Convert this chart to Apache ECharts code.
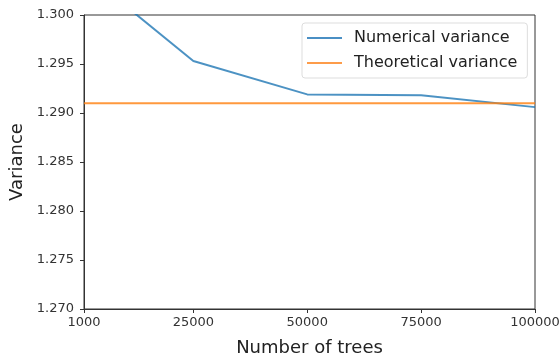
<!DOCTYPE html>
<html>
<head>
<meta charset="utf-8">
<script src="https://cdn.jsdelivr.net/npm/echarts@6/dist/echarts.min.js"></script>
<style>
  html, body { margin: 0; padding: 0; background: #fff; }
  #chart { width: 560px; height: 356px; }
</style>
</head>
<body>
<div id="chart"></div>
<script>
// Variance of the estimate as the forest grows
const treeCounts = [1000, 25000, 50000, 75000, 100000];
const numericalVariance = [1.3044, 1.2953, 1.2919, 1.2918, 1.2906];
const theoreticalVariance = 1.2910;
const xTickValues = [1000, 25000, 50000, 75000, 100000];
const yTickLabels = ['1.270', '1.275', '1.280', '1.285', '1.290', '1.295', '1.300'];

const numericalPoints = treeCounts.map((n, i) => [n, numericalVariance[i]]);
const theoreticalPoints = [[treeCounts[0], theoreticalVariance], [treeCounts[treeCounts.length - 1], theoreticalVariance]];

const chart = echarts.init(document.getElementById('chart'), null, { renderer: 'canvas' });

const font = 'DejaVu Sans';

chart.setOption({
  animation: false,
  backgroundColor: '#fff',
  grid: {
    left: 84, right: 25, top: 15, bottom: 47,
    outerBoundsMode: 'none',
    containLabel: false,
    show: true, borderColor: '#333', borderWidth: 1, backgroundColor: 'transparent'
  },
  legend: {
    left: 302, top: 23,
    orient: 'vertical',
    itemWidth: 35, itemHeight: 2, itemGap: 7,
    icon: 'rect',
    borderColor: '#ddd', borderWidth: 1, borderRadius: 3,
    padding: [6, 10, 6, 5],
    textStyle: { fontFamily: font, fontSize: 16, lineHeight: 18, color: '#222', padding: [0, 0, 0, 7] },
    data: ['Numerical variance', 'Theoretical variance']
  },
  xAxis: {
    type: 'value',
    min: 1000, max: 100000,
    name: 'Number of trees',
    nameLocation: 'middle', nameGap: 30,
    nameTextStyle: { fontFamily: font, fontSize: 18, color: '#222' },
    axisLine: { show: true, lineStyle: { color: '#333' } },
    axisTick: { show: true, length: 4, lineStyle: { color: '#333' }, customValues: xTickValues },
    axisLabel: {
      fontFamily: font, fontSize: 13, color: '#333', margin: 7,
      customValues: xTickValues,
      formatter: v => String(v)
    },
    splitLine: { show: false }
  },
  yAxis: {
    type: 'value',
    min: 1.270, max: 1.300, interval: 0.005,
    name: 'Variance',
    nameLocation: 'middle', nameGap: 57,
    nameTextStyle: { fontFamily: font, fontSize: 18, color: '#222' },
    axisLine: { show: true, lineStyle: { color: '#333' } },
    axisTick: { show: true, length: 4, lineStyle: { color: '#333' } },
    axisLabel: {
      fontFamily: font, fontSize: 13, color: '#333', margin: 10,
      formatter: v => yTickLabels[Math.round((v - 1.270) / 0.005)] || v.toFixed(3)
    },
    splitLine: { show: false }
  },
  series: [
    {
      name: 'Numerical variance',
      type: 'line',
      data: numericalPoints,
      showSymbol: false,
      symbol: 'none',
      clip: true,
      lineStyle: { color: '#1f77b4', width: 2, opacity: 0.8 },
      itemStyle: { color: '#4a8fc4' }
    },
    {
      name: 'Theoretical variance',
      type: 'line',
      data: theoreticalPoints,
      showSymbol: false,
      symbol: 'none',
      clip: true,
      lineStyle: { color: '#ff7f0e', width: 2, opacity: 0.8 },
      itemStyle: { color: '#fd9c4a' }
    }
  ]
});
</script>
</body>
</html>
